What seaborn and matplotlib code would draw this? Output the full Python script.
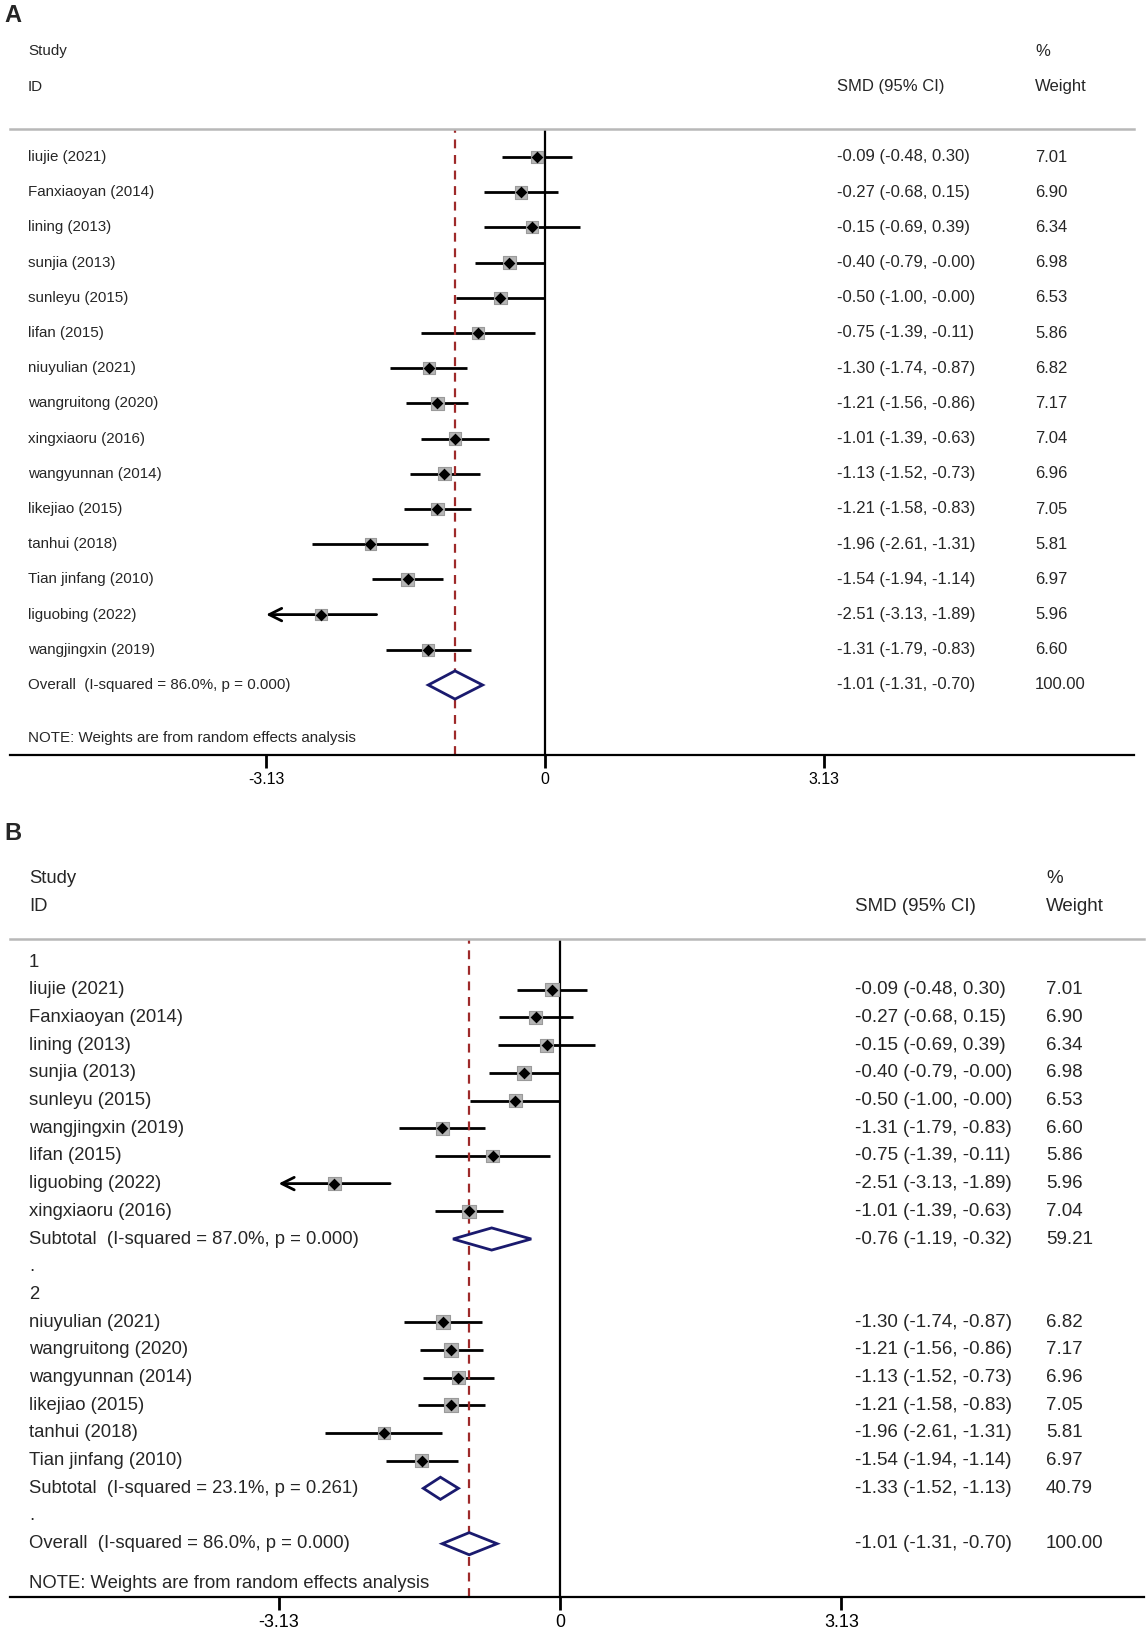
import numpy as np
import pandas as pd
import matplotlib
matplotlib.use("Agg")
import matplotlib.pyplot as plt
import seaborn as sns
from matplotlib.patches import Polygon

# ---- data (panel A) ----
studies_a = ["liujie (2021)", "Fanxiaoyan (2014)", "lining (2013)", "sunjia (2013)",
             "sunleyu (2015)", "lifan (2015)", "niuyulian (2021)", "wangruitong (2020)",
             "xingxiaoru (2016)", "wangyunnan (2014)", "likejiao (2015)", "tanhui (2018)",
             "Tian jinfang (2010)", "liguobing (2022)", "wangjingxin (2019)"]
smd_a = [-0.09, -0.27, -0.15, -0.40, -0.50, -0.75, -1.30, -1.21, -1.01, -1.13, -1.21, -1.96, -1.54, -2.51, -1.31]
lo_a = [-0.48, -0.68, -0.69, -0.79, -1.00, -1.39, -1.74, -1.56, -1.39, -1.52, -1.58, -2.61, -1.94, -3.13, -1.79]
hi_a = [0.30, 0.15, 0.39, -0.00, -0.00, -0.11, -0.87, -0.86, -0.63, -0.73, -0.83, -1.31, -1.14, -1.89, -0.83]
w_a = [7.01, 6.90, 6.34, 6.98, 6.53, 5.86, 6.82, 7.17, 7.04, 6.96, 7.05, 5.81, 6.97, 5.96, 6.60]

# ---- data (panel B) ----
studies_b1 = ["liujie (2021)", "Fanxiaoyan (2014)", "lining (2013)", "sunjia (2013)", "sunleyu (2015)",
              "wangjingxin (2019)", "lifan (2015)", "liguobing (2022)", "xingxiaoru (2016)"]
smd_b1 = [-0.09, -0.27, -0.15, -0.40, -0.50, -1.31, -0.75, -2.51, -1.01]
lo_b1 = [-0.48, -0.68, -0.69, -0.79, -1.00, -1.79, -1.39, -3.13, -1.39]
hi_b1 = [0.30, 0.15, 0.39, -0.00, -0.00, -0.83, -0.11, -1.89, -0.63]
w_b1 = [7.01, 6.90, 6.34, 6.98, 6.53, 6.60, 5.86, 5.96, 7.04]

studies_b2 = ["niuyulian (2021)", "wangruitong (2020)", "wangyunnan (2014)", "likejiao (2015)",
              "tanhui (2018)", "Tian jinfang (2010)"]
smd_b2 = [-1.30, -1.21, -1.13, -1.21, -1.96, -1.54]
lo_b2 = [-1.74, -1.56, -1.52, -1.58, -2.61, -1.94]
hi_b2 = [-0.87, -0.86, -0.73, -0.83, -1.31, -1.14]
w_b2 = [6.82, 7.17, 6.96, 7.05, 5.81, 6.97]

sub1 = ("Subtotal  (I-squared = 87.0%, p = 0.000)", -0.76, -1.19, -0.32, 59.21)
sub2 = ("Subtotal  (I-squared = 23.1%, p = 0.261)", -1.33, -1.52, -1.13, 40.79)
overall = ("Overall  (I-squared = 86.0%, p = 0.000)", -1.01, -1.31, -0.70, 100.00)

xticks = [-3.13, 0, 3.13]
x_min = -3.13  # lower display limit, CI beyond gets an arrow

sns.set_style("white")
plt.rcParams["font.family"] = ["Liberation Sans", "DejaVu Sans"]

W, H = 1147, 1637
fig = plt.figure(figsize=(W / 100, H / 100), dpi=100)

NAVY = "#1a1a6e"
RED = "#9e2a2a"


def fmt(e, l, h):
    return f"{e:.2f} ({l:.2f}, {h:.2f})"


def make_axes(px_left, px_right, px_top, px_bot, zero_px, unit_px, row0_px, step_px):
    ax = fig.add_axes([px_left / W, 1 - px_bot / H, (px_right - px_left) / W, (px_bot - px_top) / H])
    ax.set_xlim((px_left - zero_px) / unit_px, (px_right - zero_px) / unit_px)
    ax.set_ylim((px_bot - row0_px) / step_px, (px_top - row0_px) / step_px)
    to_x = lambda p: (p - zero_px) / unit_px
    return ax, to_x


def draw_panel(ax, to_x, rows, fs, fs_num, sq_scale, label_px, smd_px, w_px, note_row, pooled):
    est = pd.DataFrame([r for r in rows if r[0] == "study"],
                       columns=["kind", "label", "smd", "lo", "hi", "w", "row"])
    for _, r in est.iterrows():
        if r["lo"] <= x_min:
            ax.annotate("", xy=(x_min, r["row"]), xytext=(r["hi"], r["row"]),
                        arrowprops=dict(arrowstyle="->,head_length=0.9,head_width=0.45",
                                        lw=2, color="black", shrinkA=0, shrinkB=0))
        else:
            ax.plot([r["lo"], r["hi"]], [r["row"], r["row"]], color="black", lw=2, solid_capstyle="butt")
    sns.scatterplot(data=est, x="smd", y="row", marker="s", s=est["w"] * sq_scale,
                    color="#b5b5b5", edgecolor="#9a9a9a", linewidth=0.8, ax=ax, zorder=3, legend=False)
    sns.scatterplot(data=est, x="smd", y="row", marker="D", s=36, color="black",
                    linewidth=0, ax=ax, zorder=4, legend=False)

    for kind, label, e, l, h, w, row in rows:
        ax.text(to_x(label_px), row, label, fontsize=fs, va="center", ha="left")
        if kind in ("study", "pool"):
            ax.text(to_x(smd_px), row, fmt(e, l, h), fontsize=fs_num, va="center", ha="left")
            ax.text(to_x(w_px), row, f"{w:.2f}", fontsize=fs_num, va="center", ha="left")
        if kind == "pool":
            d = Polygon([[l, row], [e, row - 0.4], [h, row], [e, row + 0.4]], closed=True,
                        facecolor="white", edgecolor=NAVY, lw=2, zorder=3)
            ax.add_patch(d)

    ax.text(to_x(label_px), note_row, "NOTE: Weights are from random effects analysis",
            fontsize=fs, va="center", ha="left")
    # header
    ax.text(to_x(label_px), -3, "Study", fontsize=fs, va="center", ha="left")
    ax.text(to_x(label_px), -2, "ID", fontsize=fs, va="center", ha="left")
    ax.text(to_x(smd_px), -2, "SMD (95% CI)", fontsize=fs_num, va="center", ha="left")
    ax.text(to_x(w_px), -3, "%", fontsize=fs_num, va="center", ha="left")
    ax.text(to_x(w_px), -2, "Weight", fontsize=fs_num, va="center", ha="left")

    ax.axvline(0, color="black", lw=1.6, zorder=1)
    ax.axvline(pooled, color=RED, lw=1.6, ls=(0, (4, 3)), zorder=2)

    sns.despine(ax=ax, left=True, right=True, top=False, bottom=False)
    ax.spines["top"].set_color("#b8b8b8")
    ax.spines["top"].set_linewidth(1.8)
    ax.spines["bottom"].set_color("black")
    ax.spines["bottom"].set_linewidth(1.6)
    ax.set_xticks(xticks)
    ax.set_xticklabels([f"{t:g}" for t in xticks])
    ax.tick_params(axis="x", bottom=True, direction="out", length=9, width=2,
                   labelsize=fs_num - 0.6, pad=3, colors="black")
    ax.set_yticks([])
    ax.set_xlabel("")
    ax.set_ylabel("")


# ---- panel A ----
axA, toxA = make_axes(10, 1134, 129, 755, 545, 89.1, 157, 35.2)
rows_a = [("study", n, e, l, h, w, i) for i, (n, e, l, h, w) in
          enumerate(zip(studies_a, smd_a, lo_a, hi_a, w_a))]
rows_a.append(("pool",) + overall + (len(studies_a),))
draw_panel(axA, toxA, rows_a, 10.9, 12.0, 12, 28, 837, 1035, 16.5, overall[1])

# ---- panel B ----
axB, toxB = make_axes(10, 1144, 939, 1597, 560, 89.9, 962, 27.7)
rows_b = [("head", "1", 0, 0, 0, 0, 0)]
r = 1
for n, e, l, h, w in zip(studies_b1, smd_b1, lo_b1, hi_b1, w_b1):
    rows_b.append(("study", n, e, l, h, w, r))
    r += 1
rows_b.append(("pool",) + sub1 + (r,)); r += 1
rows_b.append(("head", ".", 0, 0, 0, 0, r)); r += 1
rows_b.append(("head", "2", 0, 0, 0, 0, r)); r += 1
for n, e, l, h, w in zip(studies_b2, smd_b2, lo_b2, hi_b2, w_b2):
    rows_b.append(("study", n, e, l, h, w, r))
    r += 1
rows_b.append(("pool",) + sub2 + (r,)); r += 1
rows_b.append(("head", ".", 0, 0, 0, 0, r)); r += 1
rows_b.append(("pool",) + overall + (r,)); r += 1
draw_panel(axB, toxB, rows_b, 13.3, 13.5, 13.5, 29, 855, 1046, r + 0.42, overall[1])

fig.text(4 / W, 1 - 16 / H, "A", fontsize=17, fontweight="bold", va="center", ha="left")
fig.text(4 / W, 1 - 833 / H, "B", fontsize=17, fontweight="bold", va="center", ha="left")

fig.savefig("out.png", dpi=100, facecolor="white")
